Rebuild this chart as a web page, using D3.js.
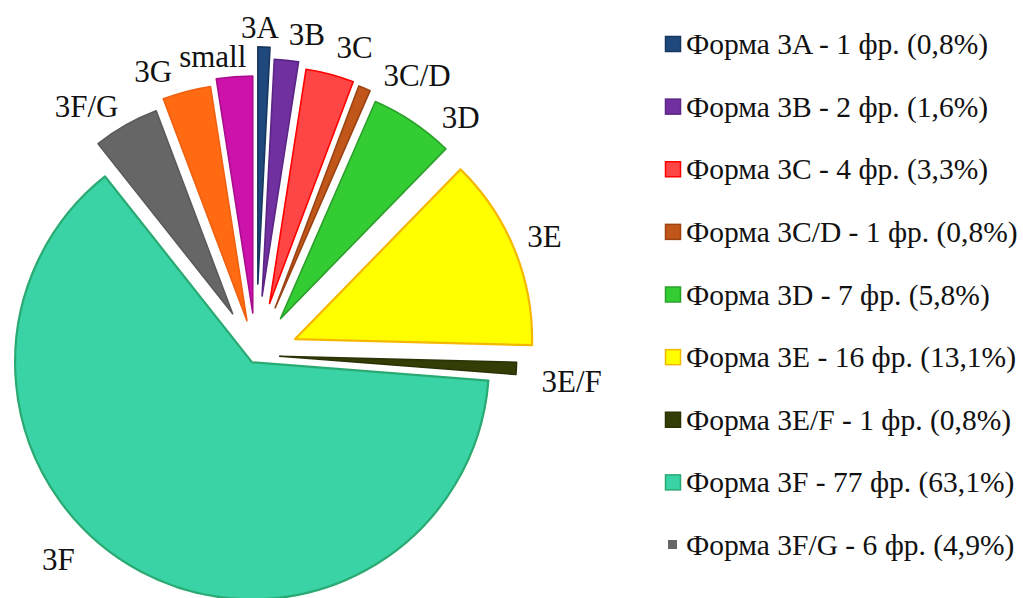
<!DOCTYPE html>
<html>
<head>
<meta charset="utf-8">
<script src="https://cdn.jsdelivr.net/npm/d3@7"></script>
<style>
  html, body { margin: 0; padding: 0; background: #ffffff; }
  svg { display: block; }
</style>
</head>
<body>
<svg id="chart" width="1023" height="598"></svg>
<script>
// Fragment counts by form (clockwise from 12 o'clock)
const forms  = ["3A", "3B", "3C", "3C/D", "3D", "3E", "3E/F", "3F", "3F/G", "3G", "small"];
const counts = [1, 2, 4, 1, 7, 16, 1, 77, 6, 4, 3];
// Legend lines (only the first nine forms are listed)
const legendLabels = [
  "Форма 3A - 1 фр. (0,8%)",
  "Форма 3B - 2 фр. (1,6%)",
  "Форма 3C - 4 фр. (3,3%)",
  "Форма 3C/D - 1 фр. (0,8%)",
  "Форма 3D - 7 фр. (5,8%)",
  "Форма 3E - 16 фр. (13,1%)",
  "Форма 3E/F - 1 фр. (0,8%)",
  "Форма 3F - 77 фр. (63,1%)",
  "Форма 3F/G - 6 фр. (4,9%)"
];

// Styling per slice
const fills   = ["#1f497d", "#7030a0", "#ff4646", "#c0561a", "#33cc33", "#ffff00", "#333d06", "#3ad3a6", "#666666", "#ff6a13", "#cc12aa"];
const strokes = ["#17375e", "#5a2585", "#ff0000", "#9b4313", "#2ba02b", "#f5b800", "#2a3305", "#2aaa72", "#5a5a5a", "#f06010", "#a80e8c"];
// How far each slice is pulled out, as a fraction of the radius
const explode = [0.30, 0.25, 0.225, 0.215, 0.185, 0.178, 0.10, 0.035, 0.20, 0.15, 0.178];
// Relative length of each slice (the 3F/G wedge is drawn shorter)
const radiusScale = [1, 1, 1, 1, 1, 1, 1, 1, 0.915, 1, 1];
// Label placement: angular nudge (degrees) and gap beyond the slice edge (px)
const labelNudge = [-0.8, 3.1, 3.0, 7.8, 6.8, -0.3, 1.7, 16, -4.7, -5.2, -3.8];
const labelPad   = [20, 29, 33, 35, 33, 33, 56, 39, 17, 29, 23];

const FONT = "Liberation Serif";
const svg = d3.select("#chart");
const cx = 256, cy = 355, R = 237;

const pie = d3.pie().sort(null).value(d => d)(counts);
const arc = d3.arc().innerRadius(0).outerRadius((d, i) => R * radiusScale[d.index]);

const g = svg.append("g").attr("transform", `translate(${cx},${cy})`);

const dir = a => [Math.sin(a), -Math.cos(a)];

g.selectAll("path.slice")
  .data(pie)
  .join("path")
  .attr("class", "slice")
  .attr("d", arc)
  .attr("fill", (d, i) => fills[i])
  .attr("stroke", (d, i) => strokes[i])
  .attr("stroke-width", (d, i) => (i === 5 || i === 7) ? 2.2 : 1.6)
  .attr("stroke-linejoin", "round")
  .attr("transform", (d, i) => {
    const mid = (d.startAngle + d.endAngle) / 2;
    const [ux, uy] = dir(mid);
    const off = explode[i] * R;
    return `translate(${ux * off},${uy * off})`;
  });

const labelPos = (d, i) => {
  const a = (d.startAngle + d.endAngle) / 2 + labelNudge[i] * Math.PI / 180;
  const r = R * (1 + explode[i]) + labelPad[i];
  const [ux, uy] = dir(a);
  return [ux * r, uy * r];
};

g.selectAll("text.lbl")
  .data(pie)
  .join("text")
  .attr("class", "lbl")
  .attr("font-family", FONT)
  .attr("font-size", 31)
  .attr("fill", "#111")
  .attr("text-anchor", "middle")
  .attr("dy", "0.35em")
  .attr("x", (d, i) => labelPos(d, i)[0])
  .attr("y", (d, i) => labelPos(d, i)[1])
  .text((d, i) => forms[i]);

// Legend
const rowY = d3.scalePoint().domain(d3.range(legendLabels.length)).range([44, 545]);
const legend = svg.append("g");
const rows = legend.selectAll("g.row")
  .data(legendLabels)
  .join("g")
  .attr("class", "row")
  .attr("transform", (d, i) => `translate(0,${rowY(i)})`);

rows.append("rect")
  .attr("x", (d, i) => i === 8 ? 668 : 665.5)
  .attr("y", (d, i) => i === 8 ? -5 : -7.5)
  .attr("width", (d, i) => i === 8 ? 9 : 15)
  .attr("height", (d, i) => i === 8 ? 9 : 15)
  .attr("fill", (d, i) => fills[i])
  .attr("stroke", (d, i) => i === 8 ? "none" : strokes[i])
  .attr("stroke-width", 1.5);

rows.append("text")
  .attr("x", 686)
  .attr("y", 10)
  .attr("font-family", FONT)
  .attr("font-size", 29.5)
  .attr("fill", "#111")
  .text(d => d);
</script>
</body>
</html>
